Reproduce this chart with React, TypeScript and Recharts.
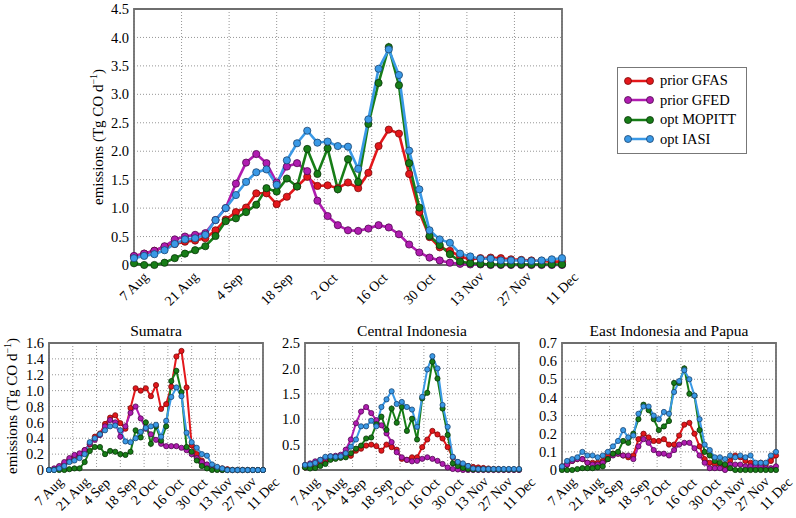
import { LineChart, Line, XAxis, YAxis, CartesianGrid, Legend, ReferenceArea } from 'recharts'

const FONT = '"Liberation Serif", "Times New Roman", serif'

// 3-day steps from 7 Aug to 11 Dec
const STEP_DAYS = 3
const N_POINTS = 43
const days = Array.from({ length: N_POINTS }, (_, i) => i * STEP_DAYS)

const tickDays = [0, 14, 28, 42, 56, 70, 84, 98, 112, 126]
const tickLabels = ['7 Aug', '21 Aug', '4 Sep', '18 Sep', '2 Oct', '16 Oct', '30 Oct', '13 Nov', '27 Nov', '11 Dec']

// Indonesia total
const mainGfas = [0.15, 0.2, 0.25, 0.32, 0.37, 0.41, 0.43, 0.47, 0.61, 0.8, 0.93, 1.01, 1.26, 1.26, 1.07, 1.2, 1.38, 1.55, 1.39, 1.4, 1.35, 1.45, 1.35, 1.62, 2.09, 2.38, 2.31, 1.6, 0.93, 0.49, 0.31, 0.25, 0.15, 0.1, 0.12, 0.13, 0.12, 0.1, 0.09, 0.08, 0.07, 0.06, 0.06]
const mainGfed = [0.16, 0.2, 0.25, 0.33, 0.45, 0.5, 0.53, 0.56, 0.79, 1.0, 1.43, 1.8, 1.95, 1.79, 1.45, 1.73, 1.79, 1.65, 1.13, 0.86, 0.7, 0.61, 0.6, 0.64, 0.7, 0.66, 0.54, 0.36, 0.22, 0.13, 0.08, 0.04, 0.02, 0.01, 0.01, 0, 0, 0, 0, 0, 0, 0, 0]
const mainMopitt = [0.03, 0, 0, 0.04, 0.12, 0.2, 0.26, 0.33, 0.51, 0.77, 0.82, 0.93, 1.06, 1.35, 1.29, 1.52, 1.38, 2.04, 1.6, 2.05, 1.33, 1.86, 1.46, 2.48, 3.2, 3.83, 3.16, 1.79, 1.01, 0.51, 0.35, 0.19, 0.06, 0.03, 0.02, 0.01, 0.01, 0.01, 0.01, 0.01, 0.01, 0.01, 0.01]
const mainIasi = [0.12, 0.16, 0.19, 0.26, 0.37, 0.45, 0.47, 0.53, 0.79, 1.0, 1.23, 1.46, 1.63, 1.68, 1.41, 1.84, 2.14, 2.36, 2.15, 2.17, 2.09, 2.08, 1.69, 2.56, 3.45, 3.79, 3.34, 2.01, 1.33, 0.61, 0.45, 0.39, 0.2, 0.15, 0.11, 0.11, 0.08, 0.08, 0.08, 0.07, 0.08, 0.1, 0.12]

// Sumatra
const sumGfas = [0, 0.01, 0.04, 0.08, 0.13, 0.17, 0.2, 0.25, 0.32, 0.42, 0.46, 0.58, 0.66, 0.69, 0.59, 0.52, 0.78, 1.03, 1.0, 1.03, 0.93, 1.07, 0.77, 0.83, 1.05, 1.43, 1.5, 1.04, 0.31, 0.2, 0.12, 0.06, 0.04, 0.03, 0.02, 0.01, 0, 0, 0, 0, 0, 0, 0]
const sumGfed = [0, 0.02, 0.05, 0.1, 0.15, 0.19, 0.21, 0.25, 0.33, 0.38, 0.44, 0.55, 0.63, 0.6, 0.42, 0.55, 0.72, 0.8, 0.65, 0.52, 0.45, 0.38, 0.33, 0.3, 0.3, 0.3, 0.28, 0.25, 0.2, 0.15, 0.1, 0.07, 0.04, 0.01, 0, 0, 0, 0, 0, 0, 0, 0, 0]
const sumMopitt = [0, 0, 0, 0, 0.01, 0.02, 0.02, 0.1, 0.24, 0.29, 0.29, 0.2, 0.24, 0.23, 0.2, 0.19, 0.23, 0.5, 0.41, 0.6, 0.33, 0.55, 0.37, 0.55, 1.12, 1.25, 0.98, 0.29, 0.23, 0.12, 0.05, 0.02, 0, 0, 0, 0, 0, 0, 0, 0, 0, 0, 0]
const sumIasi = [0, 0, 0.02, 0.05, 0.1, 0.12, 0.15, 0.2, 0.35, 0.4, 0.45, 0.5, 0.55, 0.56, 0.5, 0.36, 0.35, 0.4, 0.48, 0.53, 0.55, 0.57, 0.42, 0.62, 0.92, 1.04, 0.93, 0.47, 0.35, 0.28, 0.2, 0.18, 0.07, 0.04, 0.02, 0, 0, 0, 0, 0, 0, 0, 0]

// Central Indonesia
const cenGfas = [0.05, 0.08, 0.1, 0.13, 0.18, 0.22, 0.25, 0.25, 0.28, 0.28, 0.38, 0.42, 0.48, 0.5, 0.47, 0.38, 0.5, 0.45, 0.4, 0.22, 0.2, 0.25, 0.25, 0.45, 0.6, 0.77, 0.7, 0.62, 0.45, 0.25, 0.15, 0.1, 0.08, 0.06, 0.05, 0.04, 0.03, 0.02, 0.02, 0.01, 0.01, 0.01, 0.01]
const cenGfed = [0.1, 0.13, 0.17, 0.2, 0.24, 0.27, 0.28, 0.3, 0.4, 0.6, 0.92, 1.15, 1.24, 1.12, 0.98, 0.88, 0.72, 0.55, 0.35, 0.25, 0.2, 0.17, 0.18, 0.22, 0.25, 0.22, 0.18, 0.12, 0.05, 0.02, 0.01, 0, 0, 0, 0, 0, 0, 0, 0, 0, 0, 0, 0]
const cenMopitt = [0.05, 0.03, 0.04, 0.08, 0.12, 0.2, 0.22, 0.24, 0.25, 0.33, 0.42, 0.48, 0.62, 0.64, 0.9, 1.05, 0.79, 1.21, 0.93, 1.24, 0.77, 1.01, 0.6, 1.41, 1.52, 2.13, 1.8, 1.21, 0.69, 0.13, 0.08, 0.04, 0.02, 0.01, 0.01, 0.01, 0.01, 0.01, 0.01, 0.01, 0.01, 0.01, 0.01]
const cenIasi = [0.1, 0.11, 0.14, 0.2, 0.26, 0.27, 0.26, 0.27, 0.33, 0.46, 0.6, 0.86, 0.86, 0.97, 0.86, 1.24, 1.39, 1.55, 1.3, 1.34, 1.24, 1.19, 0.85, 1.44, 1.98, 2.24, 2.0, 1.28, 0.85, 0.26, 0.16, 0.13, 0.08, 0.03, 0.02, 0.02, 0.02, 0.02, 0.02, 0.02, 0.02, 0.02, 0.02]

// East Indonesia and Papua
const eastGfas = [0.02, 0.03, 0.05, 0.06, 0.06, 0.04, 0.04, 0.04, 0.05, 0.08, 0.09, 0.09, 0.08, 0.07, 0.08, 0.17, 0.2, 0.18, 0.16, 0.16, 0.17, 0.14, 0.14, 0.19, 0.25, 0.26, 0.2, 0.13, 0.06, 0.04, 0.03, 0.03, 0.02, 0.05, 0.08, 0.07, 0.05, 0.04, 0.03, 0.04, 0.03, 0.05, 0.08]
const eastGfed = [0.01, 0.03, 0.05, 0.06, 0.06, 0.04, 0.03, 0.03, 0.04, 0.06, 0.08, 0.09, 0.08, 0.08, 0.06, 0.13, 0.17, 0.15, 0.11, 0.09, 0.09, 0.08, 0.11, 0.14, 0.15, 0.15, 0.12, 0.08, 0.04, 0.01, 0.01, 0.01, 0, 0.03, 0.03, 0.03, 0.02, 0.02, 0.02, 0.02, 0.01, 0.01, 0.02]
const eastMopitt = [0, 0, 0, 0.005, 0.01, 0.01, 0.01, 0.015, 0.02, 0.06, 0.09, 0.1, 0.16, 0.15, 0.2, 0.28, 0.36, 0.33, 0.28, 0.22, 0.24, 0.27, 0.48, 0.48, 0.56, 0.42, 0.41, 0.22, 0.1, 0.08, 0.05, 0.04, 0.03, 0.01, 0, 0, 0, 0, 0, 0, 0, 0, 0]
const eastIasi = [0.02, 0.05, 0.06, 0.07, 0.1, 0.08, 0.08, 0.07, 0.08, 0.1, 0.13, 0.16, 0.22, 0.18, 0.19, 0.31, 0.35, 0.35, 0.3, 0.28, 0.32, 0.31, 0.43, 0.49, 0.55, 0.5, 0.41, 0.28, 0.14, 0.11, 0.07, 0.07, 0.06, 0.08, 0.07, 0.08, 0.07, 0.08, 0.04, 0.04, 0.04, 0.08, 0.1]

const mainTicks = [0, 0.5, 1, 1.5, 2, 2.5, 3, 3.5, 4, 4.5]
const sumTicks = [0, 0.2, 0.4, 0.6, 0.8, 1.0, 1.2, 1.4, 1.6]
const cenTicks = [0, 0.5, 1.0, 1.5, 2.0, 2.5]
const eastTicks = [0, 0.1, 0.2, 0.3, 0.4, 0.5, 0.6, 0.7]

const SERIES = [
  { key: 'gfas', name: 'prior GFAS', color: '#e3171b', edge: '#7a0a0a' },
  { key: 'gfed', name: 'prior GFED', color: '#b01cb0', edge: '#4f0a4f' },
  { key: 'mopitt', name: 'opt MOPITT', color: '#177d17', edge: '#0a350a' },
  { key: 'iasi', name: 'opt IASI', color: '#3a99e6', edge: '#1a4470' },
]

function buildRows(gfas: number[], gfed: number[], mopitt: number[], iasi: number[]) {
  return days.map((day, i) => ({ day, gfas: gfas[i], gfed: gfed[i], mopitt: mopitt[i], iasi: iasi[i] }))
}

const fmtY = (v: number) => (v === 0 ? '0' : v.toFixed(1))

function DateTick(props: any) {
  const { x, y, payload } = props
  const label = tickLabels[tickDays.indexOf(payload.value)] ?? ''
  const len = label.length * 6.3
  const cy = y + 7 + (len + 10) * 0.354
  return (
    <text
      x={x}
      y={cy}
      transform={`rotate(-45 ${x} ${cy})`}
      textAnchor="middle"
      dominantBaseline="central"
      fontSize={14}
      fontFamily={FONT}
      fill="#000"
    >
      {label}
    </text>
  )
}

function YLabel({ lx, ly }: { lx: number, ly: number }) {
  return (
    <text
      x={lx}
      y={ly}
      transform={`rotate(-90 ${lx} ${ly})`}
      textAnchor="middle"
      dominantBaseline="central"
      fontSize={15}
      fontFamily={FONT}
      fill="#000"
    >
      emissions (Tg CO d<tspan dy={-5} fontSize={10}>−1</tspan>
      <tspan dy={5}>)</tspan>
    </text>
  )
}

function LegendBox() {
  return (
    <div
      style={{
        border: '1.5px solid #777',
        background: '#fff',
        padding: '3px 6px 4px 6px',
        fontFamily: FONT,
        fontSize: 14.5,
        lineHeight: '19.5px',
        width: 116,
      }}
    >
      {SERIES.map(s => (
        <div key={s.key} style={{ display: 'flex', alignItems: 'center' }}>
          <svg width={32} height={12} style={{ marginRight: 4 }}>
            <line x1={4} y1={6} x2={26} y2={6} stroke={s.color} strokeWidth={2.5} />
            <circle cx={4} cy={6} r={3.5} fill={s.color} stroke={s.edge} strokeWidth={0.8} />
            <circle cx={26} cy={6} r={3.5} fill={s.color} stroke={s.edge} strokeWidth={0.8} />
          </svg>
          <span>{s.name}</span>
        </div>
      ))}
    </div>
  )
}

interface PanelProps {
  rows: ReturnType<typeof buildRows>
  width: number
  height: number
  margin: { top: number, right: number, bottom: number, left: number }
  yWidth: number
  xHeight: number
  yMax: number
  yTicks: number[]
  lineWidth: number
  dotR: number
  yLabel?: { lx: number, ly: number }
  legend?: boolean
}

function Panel({ rows, width, height, margin, yWidth, xHeight, yMax, yTicks, lineWidth, dotR, yLabel, legend }: PanelProps) {
  return (
    <LineChart width={width} height={height} data={rows} margin={margin}>
      <CartesianGrid stroke="#8a8a8a" strokeDasharray="1 2" strokeWidth={0.9} />
      <XAxis
        dataKey="day"
        type="number"
        domain={[0, 126]}
        ticks={tickDays}
        interval={0}
        height={xHeight}
        axisLine={false}
        tickLine={false}
        tickSize={0}
        tickMargin={0}
        tick={<DateTick />}
      />
      <YAxis
        type="number"
        domain={[0, yMax]}
        ticks={yTicks}
        interval={0}
        width={yWidth}
        axisLine={false}
        tickLine={false}
        tickSize={0}
        tickMargin={5}
        tickFormatter={fmtY}
        tick={{ fontSize: 14.5, fill: '#000', fontFamily: FONT }}
        label={yLabel ? <YLabel lx={yLabel.lx} ly={yLabel.ly} /> : undefined}
      />
      {SERIES.map(s => (
        <Line
          key={s.key}
          type="linear"
          dataKey={s.key}
          name={s.name}
          stroke={s.color}
          strokeWidth={lineWidth}
          dot={{ r: dotR, fill: s.color, stroke: s.edge, strokeWidth: 0.8 }}
          activeDot={false}
          isAnimationActive={false}
        />
      ))}
      <ReferenceArea x1={0} x2={126} y1={0} y2={yMax} fill="none" stroke="#6e6e6e" strokeWidth={1.8} ifOverflow="visible" />
      {legend && (
        <Legend
          layout="horizontal"
          verticalAlign="middle"
          align="center"
          content={<LegendBox />}
          wrapperStyle={{ position: 'absolute', left: 617, top: 67, width: 132, height: 84 }}
        />
      )}
    </LineChart>
  )
}

const titleStyle = (left: number): React.CSSProperties => ({
  position: 'absolute',
  left,
  top: 322,
  width: 214,
  textAlign: 'center',
  fontFamily: FONT,
  fontSize: 15.5,
  lineHeight: '18px',
  color: '#000',
})

export default function App() {
  return (
    <div style={{ position: 'absolute', left: 0, top: 0, width: 796, height: 518, background: '#fff', overflow: 'hidden' }}>
      <div style={{ position: 'absolute', left: 0, top: 0 }}>
        <Panel
          rows={buildRows(mainGfas, mainGfed, mainMopitt, mainIasi)}
          width={796}
          height={320}
          margin={{ top: 9, right: 234, bottom: 0, left: 0 }}
          yWidth={134}
          xHeight={55}
          yMax={4.5}
          yTicks={mainTicks}
          lineWidth={2.6}
          dotR={3.6}
          yLabel={{ lx: 98, ly: 137 }}
          legend
        />
      </div>

      <div style={titleStyle(49)}>Sumatra</div>
      <div style={{ position: 'absolute', left: 0, top: 300 }}>
        <Panel
          rows={buildRows(sumGfas, sumGfed, sumMopitt, sumIasi)}
          width={295}
          height={218}
          margin={{ top: 43, right: 32, bottom: 0, left: 0 }}
          yWidth={49}
          xHeight={48}
          yMax={1.6}
          yTicks={sumTicks}
          lineWidth={2}
          dotR={2.6}
          yLabel={{ lx: 12, ly: 106 }}
        />
      </div>

      <div style={titleStyle(305)}>Central Indonesia</div>
      <div style={{ position: 'absolute', left: 256, top: 300 }}>
        <Panel
          rows={buildRows(cenGfas, cenGfed, cenMopitt, cenIasi)}
          width={295}
          height={218}
          margin={{ top: 43, right: 32, bottom: 0, left: 0 }}
          yWidth={49}
          xHeight={48}
          yMax={2.5}
          yTicks={cenTicks}
          lineWidth={2}
          dotR={2.6}
        />
      </div>

      <div style={titleStyle(562)}>East Indonesia and Papua</div>
      <div style={{ position: 'absolute', left: 513, top: 300 }}>
        <Panel
          rows={buildRows(eastGfas, eastGfed, eastMopitt, eastIasi)}
          width={283}
          height={218}
          margin={{ top: 43, right: 20, bottom: 0, left: 0 }}
          yWidth={49}
          xHeight={48}
          yMax={0.7}
          yTicks={eastTicks}
          lineWidth={2}
          dotR={2.6}
        />
      </div>
    </div>
  )
}
